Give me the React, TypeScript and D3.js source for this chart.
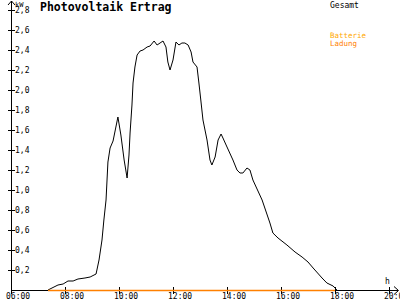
import React from "react";
import * as d3 from "d3";

const W = 400;
const H = 300;

// Gesamt (total) series: hour of day, kW
const totalHours = [
  7.37, 7.74, 7.93, 8.11, 8.3, 8.48, 8.74, 8.93, 9.15, 9.26, 9.37, 9.44, 9.52,
  9.59, 9.67, 9.78, 9.96, 10.07, 10.19, 10.3, 10.37, 10.41, 10.48, 10.52,
  10.59, 10.67, 10.78, 10.89, 11.04, 11.15, 11.3, 11.41, 11.52, 11.63, 11.74,
  11.81, 11.89, 12.0, 12.11, 12.22, 12.33, 12.44, 12.56, 12.67, 12.74, 12.89,
  12.96, 13.03, 13.11, 13.26, 13.37, 13.44, 13.56, 13.67, 13.78, 13.85, 14.0,
  14.22, 14.37, 14.48, 14.59, 14.74, 14.85, 14.96, 15.3, 15.59, 15.7, 15.89,
  16.22, 16.52, 16.78, 17.0, 17.19, 17.52, 17.7, 17.93, 18.07,
];
const totalValues = [
  0.0, 0.05, 0.06, 0.09, 0.09, 0.11, 0.12, 0.13, 0.16, 0.3, 0.5, 0.7, 0.9,
  1.28, 1.42, 1.49, 1.73, 1.55, 1.3, 1.12, 1.35, 1.57, 1.85, 2.07, 2.23, 2.35,
  2.39, 2.4, 2.43, 2.44, 2.49, 2.45, 2.47, 2.49, 2.43, 2.28, 2.2, 2.3, 2.48,
  2.45, 2.47, 2.47, 2.45, 2.38, 2.28, 2.23, 2.07, 1.9, 1.7, 1.5, 1.3, 1.25,
  1.33, 1.5, 1.56, 1.52, 1.43, 1.3, 1.2, 1.17, 1.17, 1.22, 1.2, 1.1, 0.9,
  0.67, 0.57, 0.52, 0.45, 0.38, 0.33, 0.28, 0.22, 0.12, 0.07, 0.04, 0.0,
];

// Batterie Ladung series
const batteryHours = [7.37, 18.0];
const batteryValues = [0, 0];

const xTickHours = [6, 8, 10, 12, 14, 16, 18, 20];
const xTickLabels = ["06:00", "08:00", "10:00", "12:00", "14:00", "16:00", "18:00", "20:00"];
const yTickValues = [0.2, 0.4, 0.6, 0.8, 1.0, 1.2, 1.4, 1.6, 1.8, 2.0, 2.2, 2.4, 2.6, 2.8];
const yTickLabels = ["0,2", "0,4", "0,6", "0,8", "1,0", "1,2", "1,4", "1,6", "1,8", "2,0", "2,2", "2,4", "2,6", "2,8"];

const FONT = "'DejaVu Sans Mono', monospace";
const ORANGE = "#FF8000";
const GOLD = "#FFA800";

export default function App() {
  const x = d3.scaleLinear().domain([6, 20]).range([11, 389]);
  const y = d3.scaleLinear().domain([0, 2.8]).range([290, 10]);

  const line = d3
    .line<number>()
    .x((_, i) => x(totalHours[i]))
    .y((d) => y(d));
  const bLine = d3
    .line<number>()
    .x((_, i) => x(batteryHours[i]))
    .y((d) => y(d));

  const y0 = y(0);

  return (
    <svg
      width={W}
      height={H}
      style={{ position: "absolute", left: 0, top: 0, background: "#fff" }}
    >
      <rect x={0} y={0} width={W} height={H} fill="#ffffff" />
      {/* axes */}
      <g stroke="#000" strokeWidth={1} shapeRendering="crispEdges">
        <line x1={11.5} y1={1} x2={11.5} y2={y0} />
        <line x1={11} y1={y0 + 0.5} x2={398} y2={y0 + 0.5} />
      </g>
      <g stroke="#000" strokeWidth={1} fill="none">
        <polyline points={`8,5 11.5,1 15,5`} />
        <polyline points={`394,286.5 398.5,290.5 394,294.5`} />
      </g>
      {/* y ticks */}
      <g shapeRendering="crispEdges">
        {yTickValues.map((v, i) => (
          <g key={i}>
            <line x1={8} x2={15} y1={Math.round(y(v)) + 0.5} y2={Math.round(y(v)) + 0.5} stroke="#000" />
            <text
              x={15}
              y={y(v)}
              dy="0.35em"
              fontFamily={FONT}
              fontSize={8}
              fill="#000"
            >
              {yTickLabels[i]}
            </text>
          </g>
        ))}
      </g>
      {/* x ticks */}
      <g shapeRendering="crispEdges">
        {xTickHours.map((h, i) => (
          <g key={i}>
            <line
              x1={Math.round(x(h)) + 0.5}
              x2={Math.round(x(h)) + 0.5}
              y1={y0 - 3}
              y2={y0 + 4}
              stroke="#000"
            />
            <text x={x(h) - 5} y={299} fontFamily={FONT} fontSize={8} fill="#000">
              {xTickLabels[i]}
            </text>
          </g>
        ))}
      </g>
      {/* series */}
      <path d={line(totalValues) || ""} fill="none" stroke="#000" strokeWidth={1} />
      <path
        d={bLine(batteryValues) || ""}
        fill="none"
        stroke={ORANGE}
        strokeWidth={1.4}
        transform="translate(0,0.5)"
      />
      {/* labels */}
      <text x={15} y={7} fontFamily={FONT} fontSize={7} fill="#000">kW</text>
      <text x={385} y={284} fontFamily={FONT} fontSize={8} fill="#000">h</text>
      <text x={40} y={11} fontFamily={FONT} fontSize={11.5} fontWeight="bold" fill="#000">
        Photovoltaik Ertrag
      </text>
      <text x={330} y={8} fontFamily={FONT} fontSize={8} fill="#000">Gesamt</text>
      <text x={330} y={38} fontFamily={FONT} fontSize={7.5} fill={GOLD}>Batterie</text>
      <text x={330} y={46} fontFamily={FONT} fontSize={7.5} fill={ORANGE}>Ladung</text>
    </svg>
  );
}
